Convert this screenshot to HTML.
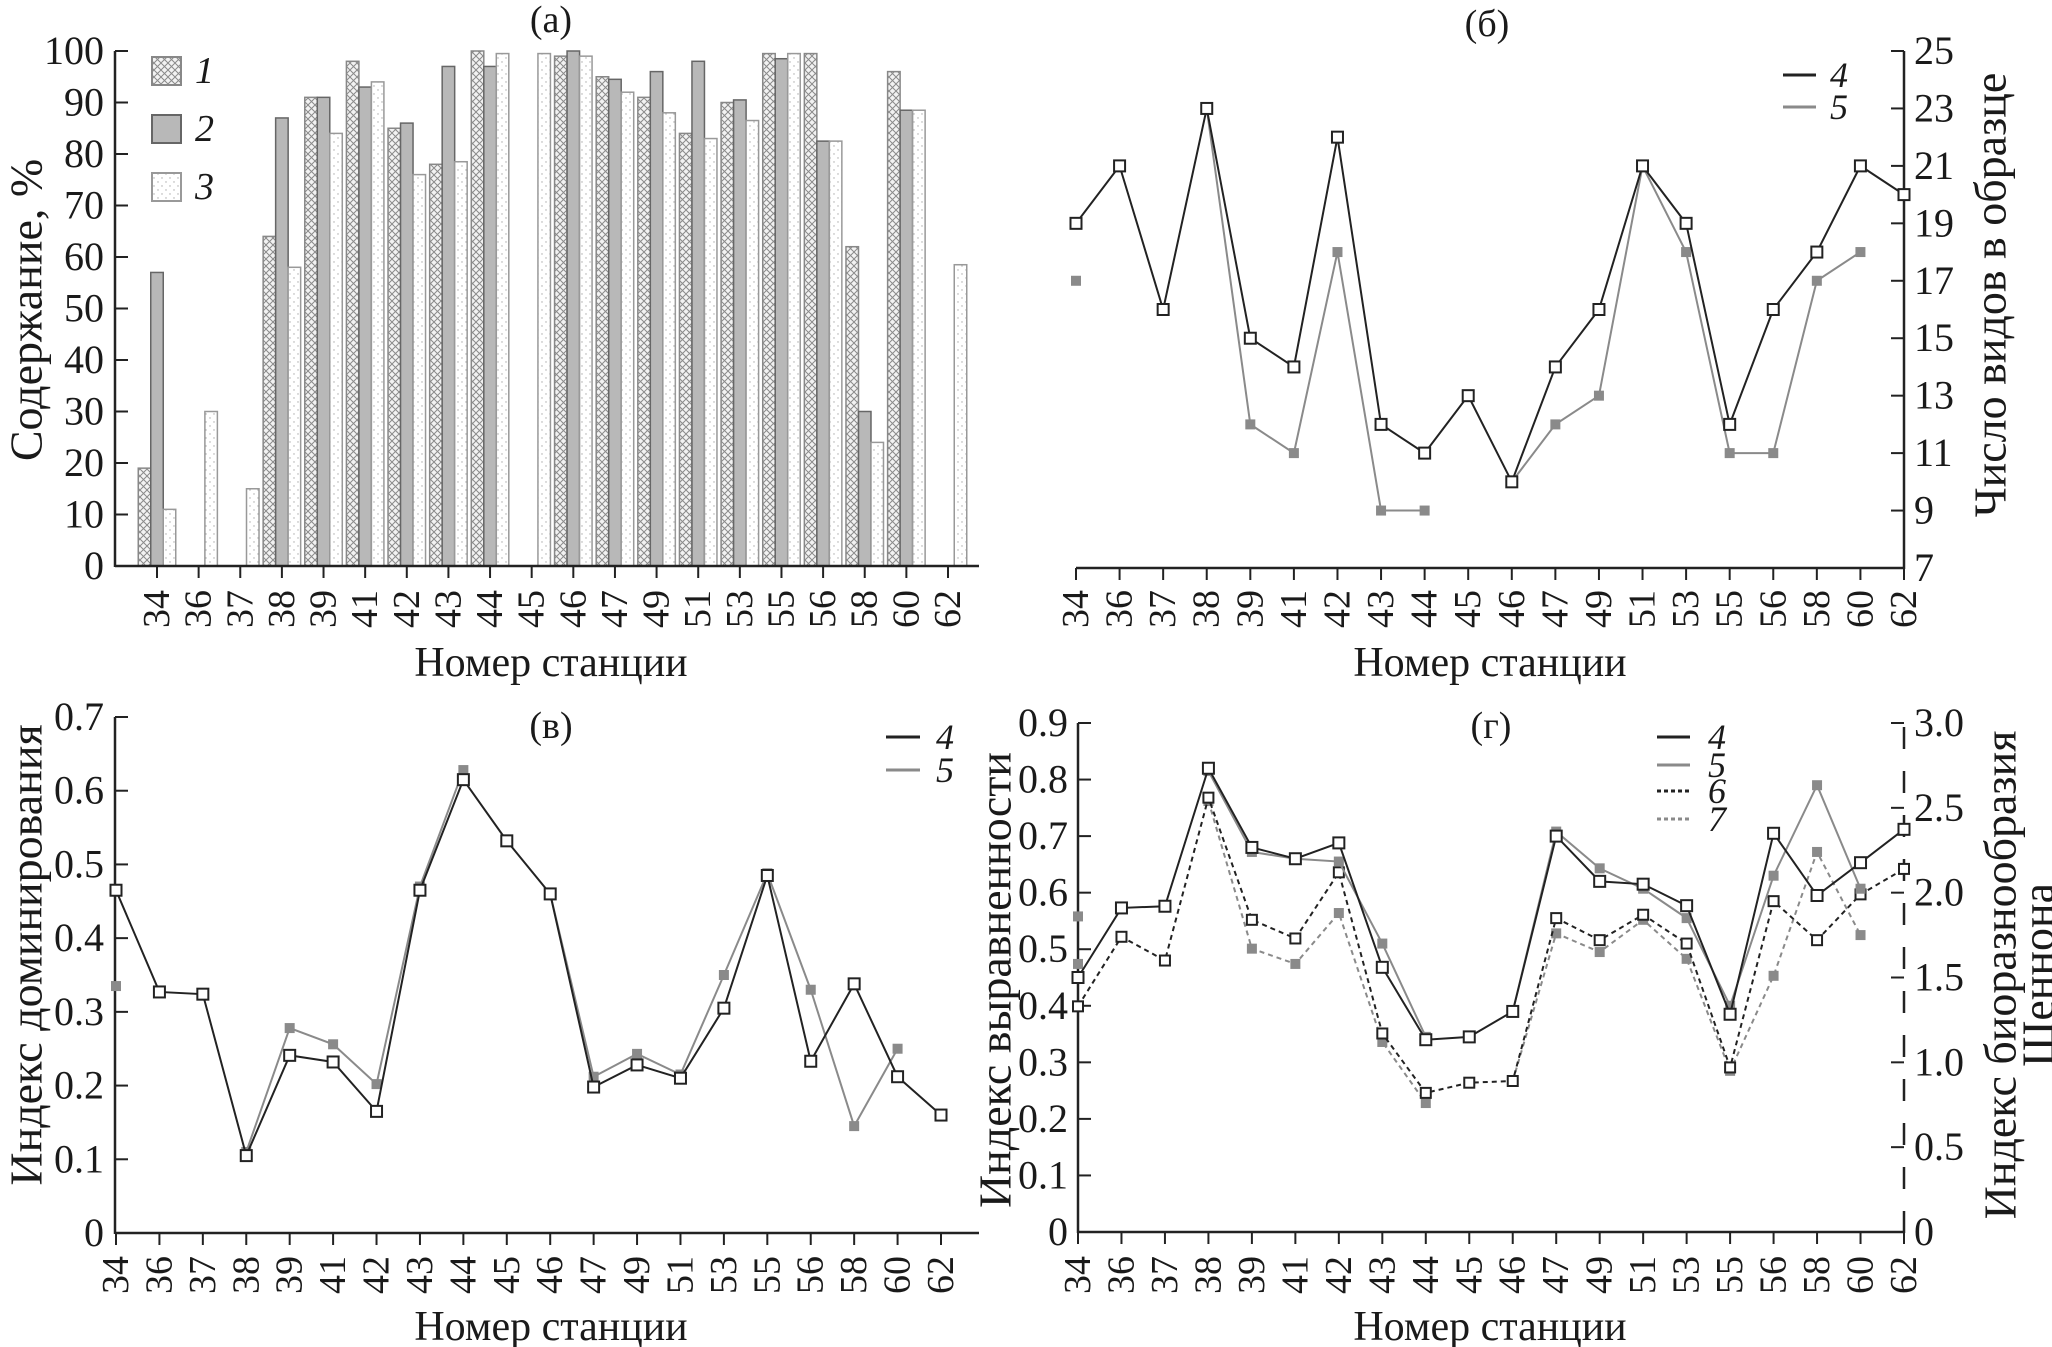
<!DOCTYPE html>
<html><head><meta charset="utf-8"><style>
html,body{margin:0;padding:0;background:#fff}
svg{display:block}
text{font-family:"Liberation Serif",serif;fill:#1a1a1a}
</style></head><body>
<svg id="chart" width="2052" height="1347" viewBox="0 0 2052 1347">
<defs>
<pattern id="hatch" width="7" height="7" patternUnits="userSpaceOnUse">
<rect width="7" height="7" fill="#f2f2f2"/>
<path d="M0,0L7,7M7,0L0,7" stroke="#8a8a8a" stroke-width="1"/>
</pattern>
<pattern id="dots" width="8" height="8" patternUnits="userSpaceOnUse">
<rect width="8" height="8" fill="#fff"/>
<circle cx="2" cy="2" r="0.7" fill="#aaa"/><circle cx="6" cy="6" r="0.7" fill="#aaa"/>
</pattern>
</defs>
</svg>
<script>
const stations=["34","36","37","38","39","41","42","43","44","45","46","47","49","51","53","55","56","58","60","62"];
// (a) percent content
const pctS1=[19,null,null,64,91,98,85,78,100,null,99,95,91,84,90,99.5,99.5,62,96,null];
const pctS2=[57,null,null,87,91,93,86,97,97,null,100,94.5,96,98,90.5,98.5,82.5,30,88.5,null];
const pctS3=[11,30,15,58,84,94,76,78.5,99.5,99.5,99,92,88,83,86.5,99.5,82.5,24,88.5,58.5];
const pctTicks=[0,10,20,30,40,50,60,70,80,90,100];
// (б) species number
const spec4=[19,21,16,23,15,14,22,12,11,13,10,14,16,21,19,12,16,18,21,20];
const spec5=[17,null,null,23,12,11,18,9,9,null,10,12,13,21,18,11,11,17,18,null];
const specTicks=[7,9,11,13,15,17,19,21,23,25];
// (в) dominance
const dom4=[.465,.327,.324,.105,.241,.232,.165,.465,.615,.532,.46,.198,.228,.21,.305,.485,.233,.338,.212,.16];
const dom5=[.335,null,null,.11,.278,.256,.202,.47,.628,null,.46,.212,.243,.215,.35,.488,.33,.145,.25,null];
const domTicks=[0,.1,.2,.3,.4,.5,.6,.7];
// (г) evenness (left) and Shannon (right)
const even4=[.45,.573,.576,.82,.68,.66,.688,.468,.34,.345,.39,.70,.62,.615,.577,.385,.705,.595,.653,.712];
const even5=[.558,null,null,.815,.672,.66,.655,.51,.345,null,.39,.708,.643,.607,.555,.40,.63,.79,.607,null];
const shan6=[1.33,1.74,1.60,2.56,1.84,1.73,2.12,1.17,0.82,0.88,0.89,1.85,1.72,1.87,1.70,0.97,1.95,1.72,1.99,2.14];
const shan7=[1.58,null,null,2.54,1.67,1.58,1.88,1.12,0.76,null,0.89,1.76,1.65,1.84,1.61,0.95,1.51,2.24,1.75,null];
const evenTicks=[0,.1,.2,.3,.4,.5,.6,.7,.8,.9];
const shanTicks=[0,.5,1,1.5,2,2.5,3];

const svg=document.getElementById('chart');
const NS='http://www.w3.org/2000/svg';
function el(tag,attrs,parent){const e=document.createElementNS(NS,tag);for(const k in attrs)e.setAttribute(k,attrs[k]);(parent||svg).appendChild(e);return e;}
function txt(s,attrs,parent){const e=el('text',attrs,parent);e.textContent=s;return e;}
function grp(name){const g=el('g',{});return g;}
function fmt(v,d){return (d&&v!==0)?v.toFixed(d):String(v);}

function xAxis(g,xs,yAx,xl,xr,labY,titleY,cx){
  const ln=el('line',{x1:xl,y1:yAx,x2:xr,y2:yAx,stroke:'#222','stroke-width':2.5},g);
  
  stations.forEach((s,i)=>{
    const x=xs(i);
    el('line',{x1:x,y1:yAx,x2:x,y2:yAx+12,stroke:'#222','stroke-width':2},g);
    const t=txt(s,{x:x,y:labY,'font-size':38,'text-anchor':'end','dominant-baseline':'central',transform:`rotate(-90 ${x} ${labY})`},g);
    
  });
  const t=txt('Номер станции',{x:cx,y:titleY,'font-size':42,'text-anchor':'middle'},g);
  
}
function yAxis(g,x,ys,ticks,dec,side,dash,labX){
  const ln=el('line',{x1:x,y1:ys(ticks[0])+1,x2:x,y2:ys(ticks[ticks.length-1]),stroke:'#222','stroke-width':2.5},g);
  if(dash)ln.setAttribute('stroke-dasharray','22 22');
  
  ticks.forEach(v=>{
    const y=ys(v);
    el('line',{x1:x,y1:y,x2:side==='r'?x-13:x+13,y2:y,stroke:'#222','stroke-width':2},g);
    const t=txt(fmt(v,dec),{x:labX,y:y+13,'font-size':40,'text-anchor':side==='r'?'start':'end'},g);
    
  });
}
function series(g,xs,ys,vals,color,open,dash,name,size){
  const sg=el('g',{},g);
  let segs=[],cur=[];
  vals.forEach((v,i)=>{if(v==null){if(cur.length)segs.push(cur);cur=[];}else cur.push([xs(i),ys(v)]);});
  if(cur.length)segs.push(cur);
  segs.forEach(sgm=>{if(sgm.length>1){const p=el('polyline',{points:sgm.map(p=>p.join(',')).join(' '),fill:'none',stroke:color,'stroke-width':2},sg);if(dash)p.setAttribute('stroke-dasharray',dash);}});
  const s=size||11;
  vals.forEach((v,i)=>{if(v==null)return;
    const r=el('rect',{x:xs(i)-s/2,y:ys(v)-s/2,width:s,height:s,fill:open?'#fff':color,stroke:open?color:'none','stroke-width':2},sg);
    });
}
function legendLine(g,x1,x2,y,color,label,dash,lx){
  const l=el('line',{x1:x1,y1:y,x2:x2,y2:y,stroke:color,'stroke-width':3},g);if(dash)l.setAttribute('stroke-dasharray',dash);
  
  const t=txt(label,{x:lx,y:y+12,'font-size':36,'font-style':'italic'},g);
  
}
function title(g,s,x,y){const t=txt(s,{x:x,y:y,'font-size':38,'text-anchor':'middle'},g);}
function vtitle(g,s,x,y){const t=txt(s,{x:x,y:y,'font-size':46,'text-anchor':'middle','dominant-baseline':'central',transform:`rotate(-90 ${x} ${y})`},g);return t;}

// ---- Panel (a)
{const g=grp('panel-a-bar-chart');
 const xs=i=>157+i*(948-157)/19, ys=v=>566-v*5.15;
 const fills=['url(#hatch)','#b8b8b8','url(#dots)'], strokes=['#888','#666','#999'];
 [pctS1,pctS2,pctS3].forEach((arr,k)=>{arr.forEach((v,i)=>{if(v==null)return;
   const r=el('rect',{x:xs(i)+(k-1)*12.5-6.25,y:ys(v),width:12.5,height:566-ys(v),fill:fills[k],stroke:strokes[k],'stroke-width':1.5},g);
   });});
 yAxis(g,115,ys,pctTicks,0,'l',false,104);
 xAxis(g,xs,566,115,979,590,676,551);
 vtitle(g,'Содержание, %',26,310);
 title(g,'(а)',551,32);
 ['1','2','3'].forEach((s,k)=>{const y=[71,129,187][k];
   const r=el('rect',{x:152,y:y-14,width:29,height:28,fill:fills[k],stroke:strokes[k],'stroke-width':2},g);
   
   const t=txt(s,{x:195,y:y+12,'font-size':38,'font-style':'italic'},g);});
}
// ---- Panel (б)
{const g=grp('panel-b-species-chart');
 const xs=i=>1076+i*(1904-1076)/19, ys=v=>568-(v-7)*(517/18);
 xAxis(g,xs,568,1076,1904,590,676,1490);
 yAxis(g,1904,ys,specTicks,0,'r',false,1914);
 vtitle(g,'Число видов в образце',1990,295);
 title(g,'(б)',1487,36);
 series(g,xs,ys,spec5,'#8a8a8a',false,null,'series-5',10);
 series(g,xs,ys,spec4,'#222',true,null,'series-4',11);
 legendLine(g,1783,1816,75,'#222','4',null,1830);
 legendLine(g,1783,1816,107,'#8a8a8a','5',null,1830);
}
// ---- Panel (в)
{const g=grp('panel-c-dominance-chart');
 const xs=i=>116+i*(941-116)/19, ys=v=>1233-v*(516/.7);
 yAxis(g,115,ys,domTicks,1,'l',false,104);
 xAxis(g,xs,1233,115,979,1256,1340,551);
 vtitle(g,'Индекс доминирования',26,955);
 title(g,'(в)',551,738);
 series(g,xs,ys,dom5,'#8a8a8a',false,null,'series-5',10);
 series(g,xs,ys,dom4,'#222',true,null,'series-4',11);
 legendLine(g,886,920,737,'#222','4',null,936);
 legendLine(g,886,920,770,'#8a8a8a','5',null,936);
}
// ---- Panel (г)
{const g=grp('panel-d-evenness-shannon-chart');
 const xs=i=>1078+i*(1904-1078)/19, ys=v=>1232-v*(509/.9), ysR=v=>1232-v*(509/3);
 yAxis(g,1078,ys,evenTicks,1,'l',false,1068);
 yAxis(g,1904,ysR,shanTicks,1,'r',true,1914);
 xAxis(g,xs,1232,1078,1904,1256,1340,1490);
 vtitle(g,'Индекс выравненности',995,980);
 vtitle(g,'Индекс биоразнообразия',2000,975);
 vtitle(g,'Шеннона',2038,975);
 title(g,'(г)',1491,738);
 series(g,xs,ysR,shan7,'#8a8a8a',false,'5 4','series-7',10);
 series(g,xs,ysR,shan6,'#222',true,'5 4','series-6',10);
 series(g,xs,ys,even5,'#8a8a8a',false,null,'series-5',10);
 series(g,xs,ys,even4,'#222',true,null,'series-4',11);
 legendLine(g,1657,1690,737,'#222','4',null,1708);
 legendLine(g,1657,1690,765,'#8a8a8a','5',null,1708);
 legendLine(g,1657,1690,791,'#222','6','4 3',1708);
 legendLine(g,1657,1690,819,'#8a8a8a','7','4 3',1708);
}
</script>
</body></html>
